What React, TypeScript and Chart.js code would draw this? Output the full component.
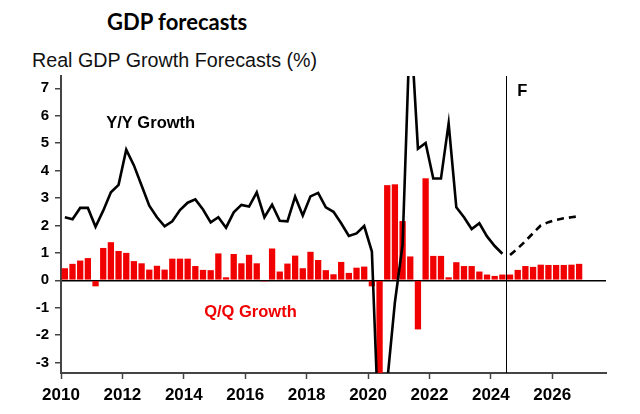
import React, { useEffect, useRef } from 'react';
import { Chart, registerables } from 'chart.js';

Chart.register(...registerables);

// ---------- data ----------
const FIRST_YEAR = 2010;
const LAST_YEAR = 2026;
const quarterLabels: string[] = [];
for (let yr = FIRST_YEAR; yr <= LAST_YEAR; yr++) {
  for (let q = 1; q <= 4; q++) quarterLabels.push(`${yr}Q${q}`);
}

// Q/Q growth (%), 2010Q1 .. 2026Q4 (forecast from 2024Q3)
const qoqGrowth = [
  0.44, 0.60, 0.72, 0.81,
  -0.22, 1.18, 1.39, 1.07,
  1.00, 0.70, 0.62, 0.39,
  0.53, 0.39, 0.79, 0.79,
  0.79, 0.52, 0.38, 0.37,
  0.98, 0.11, 0.96, 0.62,
  0.93, 0.62, -0.04, 1.16,
  0.32, 0.61, 0.90, 0.44,
  1.04, 0.74, 0.37, 0.22,
  0.67, 0.27, 0.46, 0.50,
  -0.22, -6.8, 3.47, 3.50,
  2.16, 0.87, -1.79, 3.72,
  0.89, 0.89, 0.11, 0.66,
  0.52, 0.52, 0.32, 0.21,
  0.16, 0.21, 0.21, 0.38,
  0.52, 0.49, 0.57, 0.56,
  0.56, 0.56, 0.57, 0.60,
];

// Y/Y growth (%), actual 2010Q1 .. 2024Q2
const yoyActual = [
  2.30, 2.23, 2.64, 2.64,
  1.95, 2.54, 3.21, 3.48,
  4.76, 4.19, 3.46, 2.72,
  2.30, 1.97, 2.15, 2.56,
  2.83, 2.95, 2.58, 2.11,
  2.30, 1.92, 2.48, 2.75,
  2.69, 3.21, 2.30, 2.76,
  2.17, 2.15, 3.05, 2.36,
  3.06, 3.19, 2.66, 2.50,
  2.08, 1.62, 1.71, 1.98,
  1.05, -6.3, -3.7, -0.8,
  1.3, 9.6, 4.80, 5.01,
  3.71, 3.71, 5.72, 2.66,
  2.30, 1.87, 2.08, 1.60,
  1.25, 0.97,
];

// Y/Y growth forecast (%), 2024Q3 .. 2026Q4
const yoyForecast = [0.92, 1.16, 1.43, 1.72, 2.00, 2.12, 2.20, 2.26, 2.30, 2.34];

const xTickYears = [2010, 2012, 2014, 2016, 2018, 2020, 2022, 2024, 2026];
const yTickValues = [-3, -2, -1, 0, 1, 2, 3, 4, 5, 6, 7];
const FORECAST_START = 2024.5;

const annotationTexts = ['Y/Y Growth', 'Q/Q Growth', 'F'];
const annotationX = [2012.92, 2016.17, 2025.02];
const annotationY = [5.72, -1.19, 6.9];
const annotationColors = ['#000000', '#f00000', '#000000'];

// ---------- helpers ----------
function quarterToX(label: string): number {
  const yr = parseInt(label.slice(0, 4), 10);
  const q = parseInt(label.slice(5), 10);
  return yr + (q - 1) * 0.25 + 0.125;
}

const FONT = "'Liberation Sans', Arial, sans-serif";

const annotationPlugin = {
  id: 'gdpAnnotations',
  afterDatasetsDraw(chart: any) {
    const { ctx, chartArea, scales } = chart;
    const xs = scales.x;
    const ys = scales.y;
    ctx.save();
    const vx = Math.round(xs.getPixelForValue(FORECAST_START)) + 0.5;
    ctx.strokeStyle = '#000';
    ctx.lineWidth = 1;
    ctx.beginPath();
    ctx.moveTo(vx, chartArea.top);
    ctx.lineTo(vx, chartArea.bottom);
    ctx.stroke();

    ctx.textAlign = 'center';
    ctx.textBaseline = 'middle';
    annotationTexts.forEach((t, i) => {
      ctx.fillStyle = annotationColors[i];
      ctx.font = `bold 16.5px ${FONT}`;
      ctx.fillText(t, xs.getPixelForValue(annotationX[i]), ys.getPixelForValue(annotationY[i]));
    });
    ctx.restore();
  },
};

export default function App() {
  const canvasRef = useRef<HTMLCanvasElement | null>(null);

  useEffect(() => {
    if (!canvasRef.current) return;
    const nActual = yoyActual.length;
    const chart = new Chart(canvasRef.current, {
      type: 'bar',
      data: {
        datasets: [
          {
            type: 'line',
            data: yoyActual.map((v, i) => ({ x: quarterToX(quarterLabels[i]), y: v })),
            borderColor: '#000',
            borderWidth: 2.6,
            pointRadius: 0,
            tension: 0,
            order: 0,
          } as any,
          {
            type: 'line',
            data: yoyForecast.map((v, i) => ({ x: quarterToX(quarterLabels[nActual + i]), y: v })),
            borderColor: '#000',
            borderWidth: 2.6,
            borderDash: [7, 5],
            pointRadius: 0,
            tension: 0,
            order: 0,
          } as any,
          {
            type: 'bar',
            data: qoqGrowth.map((v, i) => ({ x: quarterToX(quarterLabels[i]), y: v })),
            backgroundColor: '#f00000',
            borderWidth: 0,
            categoryPercentage: 0.82,
            barPercentage: 1,
            order: 1,
          } as any,
        ],
      },
      options: {
        animation: false,
        responsive: false,
        devicePixelRatio: 1,
        layout: { padding: { top: 76, right: 34, left: 0, bottom: 0 } },
        plugins: {
          legend: { display: false },
          tooltip: { enabled: false },
        },
        scales: {
          x: {
            type: 'linear',
            min: 2010,
            max: 2027.75,
            offset: false,
            afterFit: (s: any) => { s.height = 41; },
            border: { display: true, color: '#444', width: 2 },
            grid: {
              offset: false,
              drawOnChartArea: false,
              drawTicks: true,
              tickLength: 6,
              tickColor: '#444',
              tickWidth: 1.5,
            },
            ticks: {
              stepSize: 2,
              includeBounds: false,
              autoSkip: false,
              maxRotation: 0,
              color: '#000',
              padding: 6,
              font: { family: FONT, weight: 'bold', size: 17 },
              callback: (v: any) => (xTickYears.includes(Number(v)) ? String(v) : ''),
            },
          },
          y: {
            min: -3.38,
            max: 7.45,
            afterFit: (s: any) => { s.width = 61; },
            border: { display: true, color: '#444', width: 2 },
            grid: {
              drawOnChartArea: true,
              color: (c: any) => (c.tick && c.tick.value === 0 ? '#000' : 'rgba(0,0,0,0)'),
              lineWidth: 1.5,
              tickColor: '#444',
              tickLength: 6,
              tickWidth: 1.5,
            },
            ticks: {
              stepSize: 1,
              includeBounds: false,
              autoSkip: false,
              color: '#000',
              padding: 6,
              font: { family: FONT, weight: 'bold', size: 15 },
              callback: (v: any) => (yTickValues.includes(Number(v)) ? String(v) : ''),
            },
          },
        },
      } as any,
      plugins: [annotationPlugin],
    });
    return () => chart.destroy();
  }, []);

  return (
    <div style={{ position: 'fixed', left: 0, top: 0, width: 640, height: 414, background: '#fff' }}>
      <div
        style={{
          position: 'absolute', left: 107, top: 9, fontFamily: "Lato, 'Open Sans', sans-serif",
          fontWeight: 'bold', fontSize: 22, lineHeight: '26px', color: '#000', whiteSpace: 'nowrap',
        }}
      >
        GDP forecasts
      </div>
      <div
        style={{
          position: 'absolute', left: 32, top: 48, fontFamily: FONT,
          fontSize: 19.7, lineHeight: '24px', color: '#111', whiteSpace: 'nowrap',
        }}
      >
        Real GDP Growth Forecasts (%)
      </div>
      <canvas ref={canvasRef} width={640} height={414} style={{ position: 'absolute', left: 0, top: 0 }} />
    </div>
  );
}
